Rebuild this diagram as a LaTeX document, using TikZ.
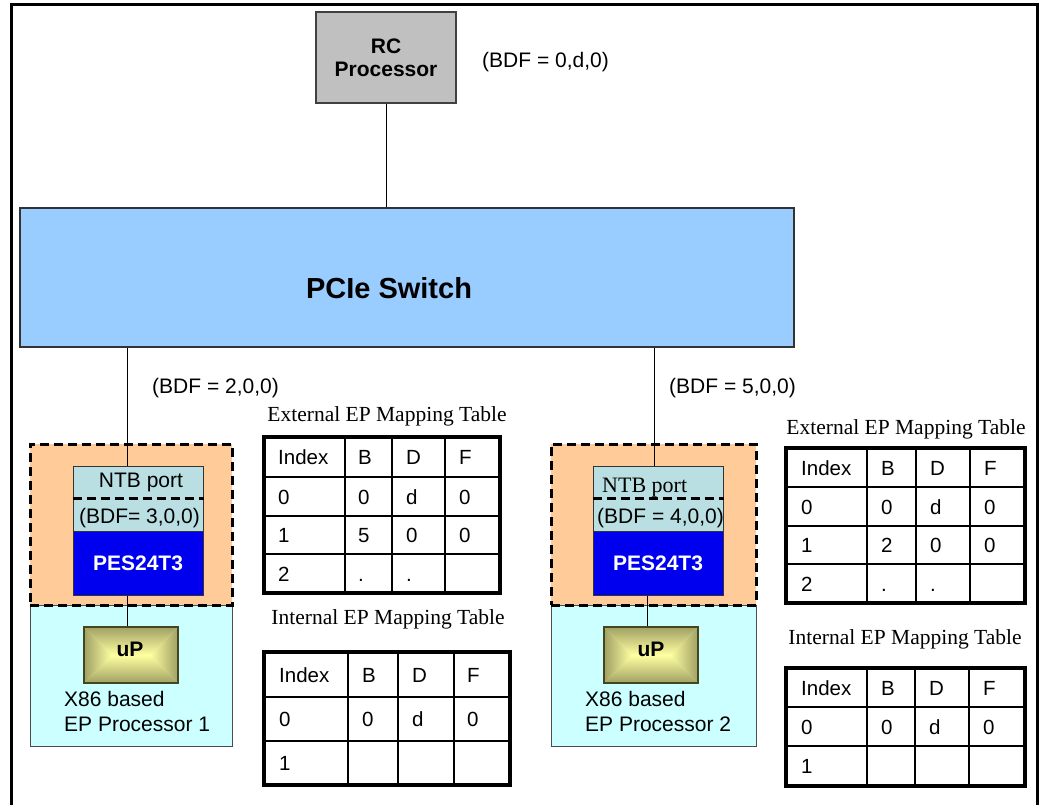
\documentclass[tikz,border=0pt]{standalone}
\usepackage{fontspec}
\setmainfont{Liberation Sans}
\newfontfamily\serifx{Liberation Serif}
\usetikzlibrary{calc}
\definecolor{rcgray}{RGB}{192,192,192}
\definecolor{swblue}{RGB}{153,204,255}
\definecolor{orangeb}{RGB}{255,204,153}
\definecolor{cyanb}{RGB}{204,255,255}
\definecolor{ntbc}{RGB}{185,223,226}
\definecolor{pesblue}{RGB}{0,0,238}
\definecolor{upin}{RGB}{255,255,160}
\definecolor{upout}{RGB}{160,160,100}
\definecolor{upborder}{RGB}{70,70,30}
\newcommand\upshade[4]{%
  \pgfmathsetmacro\cyy{(#2+#4)/2}%
  \pgfmathsetmacro\hh{(#4-#2)/2}%
  \pgfmathsetmacro\rl{#1+\hh}%
  \pgfmathsetmacro\rr{#3-\hh}%
  \begin{scope}\clip (#1,#2) -- (#3,#2) -- (\rr,\cyy) -- (\rl,\cyy) -- cycle;
    \shade[top color=upout, bottom color=upin] (#1,#2) rectangle (#3,\cyy);\end{scope}
  \begin{scope}\clip (#1,#4) -- (#3,#4) -- (\rr,\cyy) -- (\rl,\cyy) -- cycle;
    \shade[top color=upin, bottom color=upout] (#1,\cyy) rectangle (#3,#4);\end{scope}
  \begin{scope}\clip (#1,#2) -- (\rl,\cyy) -- (#1,#4) -- cycle;
    \shade[left color=upout, right color=upin] (#1,#2) rectangle (\rl,#4);\end{scope}
  \begin{scope}\clip (#3,#2) -- (\rr,\cyy) -- (#3,#4) -- cycle;
    \shade[left color=upin, right color=upout] (\rr,#2) rectangle (#3,#4);\end{scope}
}
\begin{document}
\begin{tikzpicture}[x=1pt,y=-1pt,
  txt/.style={font=\fontsize{21}{25}\selectfont, inner sep=0},
  btxt/.style={font=\bfseries\fontsize{21}{23}\selectfont, inner sep=0},
  cell/.style={font=\fontsize{20.5}{24}\selectfont, inner sep=0, anchor=west, text height=15, text depth=0},
  ttl/.style={font=\serifx\fontsize{21.5}{25}\selectfont, inner sep=0},
  rcbox/.style={draw=black!75, line width=1.2pt, fill=rcgray, minimum width=140, minimum height=91, inner sep=0},
  swbox/.style={draw=black!80, line width=1.2pt, fill=swblue, minimum width=774, minimum height=139, inner sep=0},
  obox/.style={draw=black, line width=3pt, dash pattern=on 9pt off 5pt, fill=orangeb, minimum width=202, minimum height=161, inner sep=0},
  cbox/.style={draw=black!70, line width=1pt, fill=cyanb, minimum width=202, minimum height=141, inner sep=0},
  ntbbox/.style={draw=black!80, line width=1pt, fill=ntbc, minimum width=130, minimum height=65, inner sep=0},
  pesbox/.style={draw=black!80, line width=1pt, fill=pesblue, minimum width=130, minimum height=64, inner sep=0},
  upbox/.style={draw=upborder, line width=1.2pt, minimum width=94, minimum height=56, inner sep=0},
  divline/.style={line width=2.6pt, dash pattern=on 9pt off 5pt},
  conn/.style={draw=black, line width=1pt},
  tout/.style={line width=3.4pt, line join=miter},
  tin/.style={line width=1.6pt}]
\useasboundingbox (0,0) rectangle (1044,804);
% outer frame (open at bottom)
\draw[line width=3pt] (11,812) -- (11,4) -- (1037,4) -- (1037,812);

% RC processor and switch
\node[rcbox, btxt, align=center] (rc) at (386,57.5) {RC\\Processor};
\node[txt, anchor=west] (rclbl) at (482,62) {(BDF = 0,d,0)};
\node[swbox] (sw) at (407,277.5) {};
\node[font=\bfseries\fontsize{29}{33}\selectfont, inner sep=0] (swlbl) at (389,288) {PCIe Switch};
\draw[conn] (rc.south) -- (rc.south |- sw.north);

% left endpoint
\node[cbox] (cbL) at (131,675.5) {};
\node[obox] (obL) at (131,524.5) {};
\node[ntbbox] (ntbL) at (138,498.5) {};
\draw[divline] (ntbL.west) -- (ntbL.east);
\node[pesbox] (pesL) at (138,563) {};
\node[txt] (ntbLt) at (141,482) {NTB port};
\node[txt] (ntbLb) at (139.5,518) {(BDF= 3,0,0)};
\node[font=\bfseries\fontsize{21}{23}\selectfont, text=white, inner sep=0] (pesLt) at (138,563) {PES24T3};
\upshade{84}{627}{178}{683}
\node[upbox] (upL) at (131,655) {};
\node[btxt] (upLt) at (130,649) {uP};
\node[txt, anchor=west, align=left] (epL) at (64,711.5) {X86 based\\EP Processor 1};
\coordinate (xL) at (127,0);
\draw[conn] (xL |- sw.south) -- (xL |- ntbL.north);
\draw[conn] (xL |- pesL.south) -- (xL |- upL.north);
\node[txt, anchor=west] (bdfL) at (152,388) {(BDF = 2,0,0)};

% right endpoint
\node[cbox, minimum width=205] (cbR) at (653.5,675.5) {};
\node[obox, minimum width=205] (obR) at (653.5,524.5) {};
\node[ntbbox] (ntbR) at (658,498.5) {};
\draw[divline] (ntbR.west) -- (ntbR.east);
\node[pesbox] (pesR) at (658,563) {};
\node[font=\serifx\fontsize{22}{25}\selectfont, inner sep=0, anchor=west] (ntbRt) at (602,488) {NTB port};
\node[txt, anchor=west] (ntbRb) at (597,518) {(BDF = 4,0,0)};
\node[font=\bfseries\fontsize{21}{23}\selectfont, text=white, inner sep=0] (pesRt) at (658,563) {PES24T3};
\upshade{604}{627}{698}{683}
\node[upbox] (upR) at (651,655) {};
\node[btxt] (upRt) at (651,649) {uP};
\node[txt, anchor=west, align=left] (epR) at (585,711.5) {X86 based\\EP Processor 2};
\coordinate (xR1) at (654,0);
\coordinate (xR2) at (647,0);
\draw[conn] (xR1 |- sw.south) -- (xR1 |- ntbR.north);
\draw[conn] (xR2 |- pesR.south) -- (xR2 |- upR.north);
\node[txt, anchor=west] (bdfR) at (669,388) {(BDF = 5,0,0)};

% left external table
\node[ttl] (leT) at (387,416) {External EP Mapping Table};
\draw[tin] \foreach \x in {345,392,445} {(\x,437) -- (\x,593)} \foreach \y in {477,516,554} {(264,\y) -- (500,\y)};
\draw[tout] (264,437) rectangle (500,593);
\foreach \c/\t [count=\i] in {278/Index,358/B,406/D,459/F} \node[cell] (le-1-\i) at (\c,457) {\t};
\foreach \c/\t [count=\i] in {278/0,358/0,406/d,459/0} \node[cell] (le-2-\i) at (\c,496.5) {\t};
\foreach \c/\t [count=\i] in {278/1,358/5,406/0,459/0} \node[cell] (le-3-\i) at (\c,535) {\t};
\foreach \c/\t [count=\i] in {278/2,358/.,406/.} \node[cell] (le-4-\i) at (\c,573.5) {\t};

% left internal table
\node[ttl] (liT) at (388,619) {Internal EP Mapping Table};
\draw[tin] \foreach \x in {348,398,454} {(\x,652) -- (\x,785)} \foreach \y in {697,741} {(264,\y) -- (510,\y)};
\draw[tout] (264,652) rectangle (510,785);
\foreach \c/\t [count=\i] in {279/Index,362/B,412/D,467/F} \node[cell] (li-1-\i) at (\c,674.5) {\t};
\foreach \c/\t [count=\i] in {279/0,362/0,412/d,467/0} \node[cell] (li-2-\i) at (\c,719) {\t};
\node[cell] (li-3-1) at (279,763) {1};

% right external table
\node[ttl] (reT) at (906,429) {External EP Mapping Table};
\draw[tin] \foreach \x in {867,916,970} {(\x,448) -- (\x,603)} \foreach \y in {487,526,564} {(786,\y) -- (1025,\y)};
\draw[tout] (786,448) rectangle (1025,603);
\foreach \c/\t [count=\i] in {801/Index,881/B,930/D,984/F} \node[cell] (re-1-\i) at (\c,467.5) {\t};
\foreach \c/\t [count=\i] in {801/0,881/0,930/d,984/0} \node[cell] (re-2-\i) at (\c,506.5) {\t};
\foreach \c/\t [count=\i] in {801/1,881/2,930/0,984/0} \node[cell] (re-3-\i) at (\c,545) {\t};
\foreach \c/\t [count=\i] in {801/2,881/.,930/.} \node[cell] (re-4-\i) at (\c,583.5) {\t};

% right internal table
\node[ttl] (riT) at (905,639) {Internal EP Mapping Table};
\draw[tin] \foreach \x in {867,915,969} {(\x,668) -- (\x,786)} \foreach \y in {707,746} {(786,\y) -- (1025,\y)};
\draw[tout] (786,668) rectangle (1025,786);
\foreach \c/\t [count=\i] in {801/Index,881/B,929/D,983/F} \node[cell] (ri-1-\i) at (\c,687.5) {\t};
\foreach \c/\t [count=\i] in {801/0,881/0,929/d,983/0} \node[cell] (ri-2-\i) at (\c,726.5) {\t};
\node[cell] (ri-3-1) at (801,766) {1};
\end{tikzpicture}
\end{document}
